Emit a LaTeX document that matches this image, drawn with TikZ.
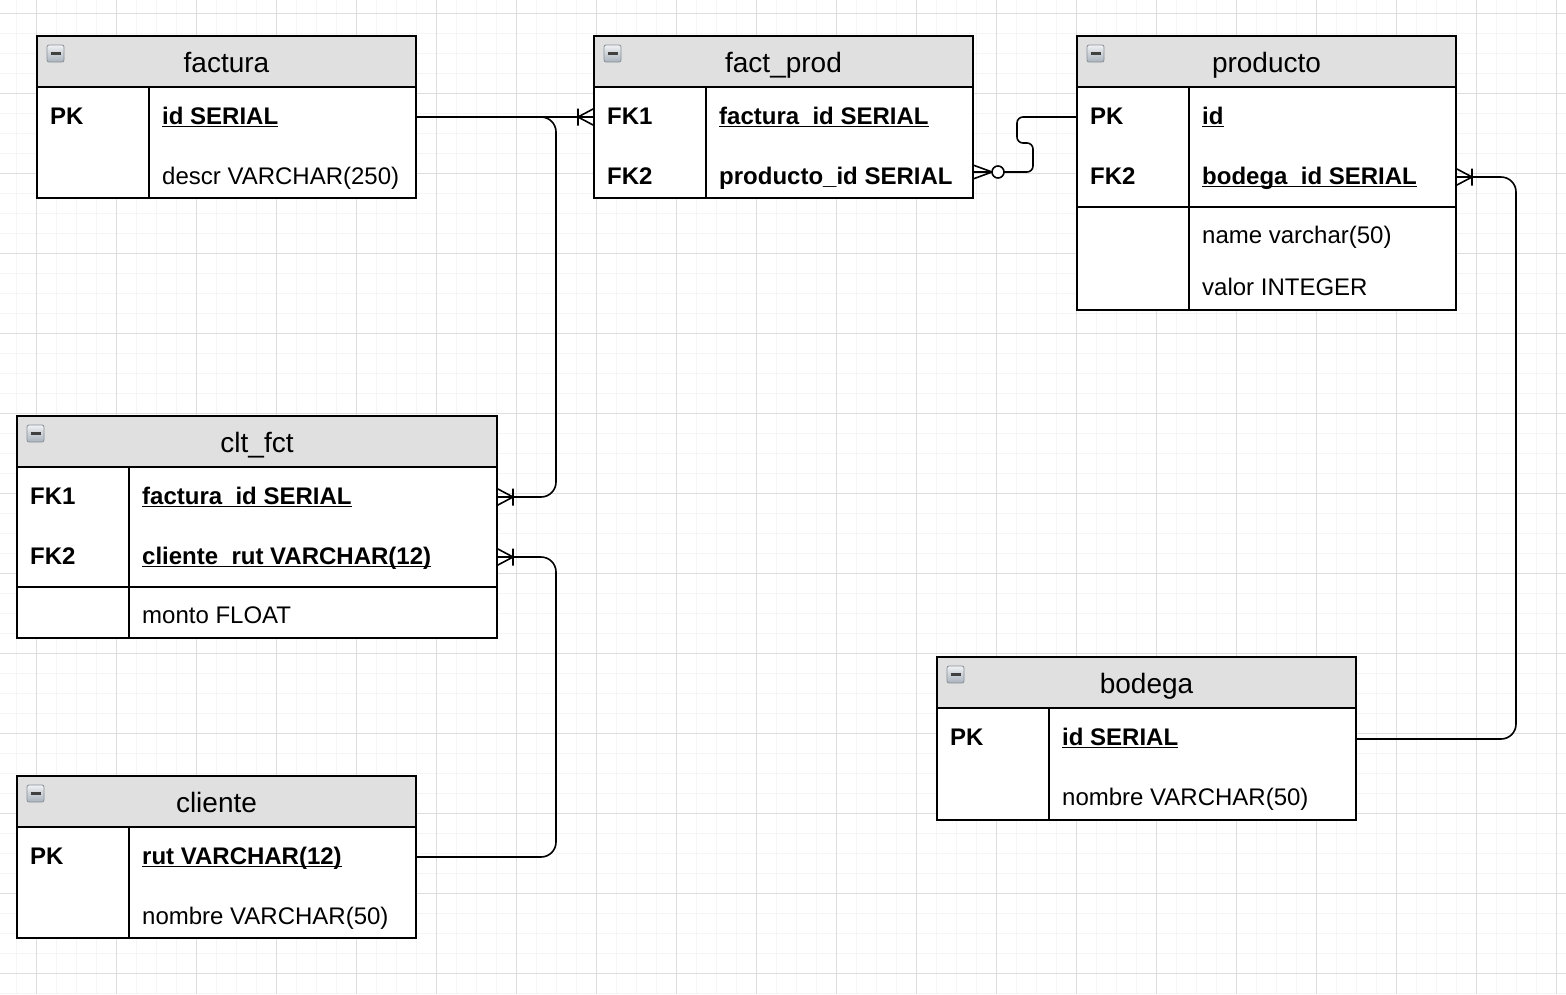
\documentclass[tikz,border=0pt]{standalone}
\usepackage{fontspec}
\setmainfont{Liberation Sans}
\definecolor{hdrgray}{HTML}{E0E0E0}
\definecolor{gridminor}{HTML}{F5F5F5}
\definecolor{gridmajor}{HTML}{DEDEDE}
\definecolor{icontop}{HTML}{F0F2F4}
\definecolor{iconbot}{HTML}{A9B2BC}
\definecolor{iconedge}{HTML}{8A9199}
\newcommand\ulin[1]{\draw[uline] ([yshift=-2.6pt]#1.base west) -- ([yshift=-2.6pt]#1.base east);}
\tikzset{
  tbl/.style={draw=black, line width=2pt, fill=white, inner sep=0pt, outer sep=0pt, anchor=north west},
  hdr/.style={draw=black, line width=2pt, fill=hdrgray, inner sep=0pt, outer sep=0pt, anchor=north west, minimum height=51pt},
  title/.style={inner sep=0pt, anchor=base, font=\fontsize{28}{32}\selectfont},
  keyt/.style={inner sep=0pt, anchor=base west, font=\fontsize{24}{28}\selectfont\bfseries},
  fld/.style={inner sep=0pt, anchor=base west, font=\fontsize{24}{28}\selectfont},
  fldb/.style={inner sep=0pt, anchor=base west, font=\fontsize{24}{28}\selectfont\bfseries},
  sep/.style={line width=2pt},
  uline/.style={line width=1.4pt},
  rel/.style={line width=1.6pt, rounded corners=15pt},
  icon/.style={minimum width=17pt, minimum height=17pt, inner sep=0pt, outer sep=0pt, rounded corners=2pt,
    draw=iconedge, line width=0.8pt, top color=icontop, bottom color=iconbot},
  minor/.style={gridminor, line width=1.5pt},
  major/.style={gridmajor, line width=1pt},
  onemany/.pic={\draw[line width=1.6pt] (0,-8.5) -- (16,0) -- (0,8.5) (16,-8.5) -- (16,8.5);},
  zeromany/.pic={\draw[line width=1.6pt] (0,-7) -- (19,0) -- (0,7); \draw[line width=1.6pt, fill=white] (25,0) circle (6pt);}
}
\begin{document}
\begin{tikzpicture}[x=1pt,y=-1pt]
\useasboundingbox (0,0) rectangle (1566,994);
\fill[white] (0,0) rectangle (1566,994);
% grid
\foreach \x in {16.5,36.5,...,1566} \draw[minor] (\x,0) -- (\x,994);
\foreach \y in {13.5,33.5,...,994} \draw[minor] (0,\y) -- (1566,\y);
\foreach \x in {36.5,116.5,...,1566} \draw[major] (\x,0) -- (\x,994);
\foreach \y in {13.5,93.5,...,994} \draw[major] (0,\y) -- (1566,\y);

% ---------- factura ----------
\node[tbl, minimum width=379pt, minimum height=162pt] (factura) at (37,36) {};
\node[hdr, minimum width=379pt] (factura-h) at (37,36) {};
\draw[sep] (149,87) -- (149,198);
\node[icon] (factura-i) at (55.5,53.5) {};
\node[title] (factura-t) at (226.5,72) {factura};
\node[keyt] (factura-k1) at (50,124) {PK};
\node[fldb] (factura-f1) at (162,124) {id SERIAL}; \ulin{factura-f1}
\node[fld] (factura-f2) at (162,184) {descr VARCHAR(250)};
\coordinate (factura-r1) at (416,117);

% ---------- fact_prod ----------
\node[tbl, minimum width=379pt, minimum height=162pt] (factprod) at (594,36) {};
\node[hdr, minimum width=379pt] (factprod-h) at (594,36) {};
\draw[sep] (706,87) -- (706,198);
\node[icon] (factprod-i) at (612.5,53.5) {};
\node[title] (factprod-t) at (783.5,72) {fact\_prod};
\node[keyt] (factprod-k1) at (607,124) {FK1};
\node[fldb] (factprod-f1) at (719,124) {factura\_id SERIAL}; \ulin{factprod-f1}
\node[keyt] (factprod-k2) at (607,184) {FK2};
\node[fldb] (factprod-f2) at (719,184) {producto\_id SERIAL};
\coordinate (factprod-r1) at (594,117);
\coordinate (factprod-r2) at (973,172);

% ---------- producto ----------
\node[tbl, minimum width=379pt, minimum height=274pt] (producto) at (1077,36) {};
\node[hdr, minimum width=379pt] (producto-h) at (1077,36) {};
\draw[sep] (1189,87) -- (1189,310);
\draw[sep] (1077,207) -- (1456,207);
\node[icon] (producto-i) at (1095.5,53.5) {};
\node[title] (producto-t) at (1266.5,72) {producto};
\node[keyt] (producto-k1) at (1090,124) {PK};
\node[fldb] (producto-f1) at (1202,124) {id}; \ulin{producto-f1}
\node[keyt] (producto-k2) at (1090,184) {FK2};
\node[fldb] (producto-f2) at (1202,184) {bodega\_id SERIAL}; \ulin{producto-f2}
\node[fld] (producto-f3) at (1202,243.5) {name varchar(50)};
\node[fld] (producto-f4) at (1202,295) {valor INTEGER};
\coordinate (producto-r1) at (1077,117);
\coordinate (producto-r2) at (1456,177);

% ---------- clt_fct ----------
\node[tbl, minimum width=480pt, minimum height=222pt] (cltfct) at (17,416) {};
\node[hdr, minimum width=480pt] (cltfct-h) at (17,416) {};
\draw[sep] (129,467) -- (129,638);
\draw[sep] (17,587) -- (497,587);
\node[icon] (cltfct-i) at (35.5,433.5) {};
\node[title] (cltfct-t) at (257,452) {clt\_fct};
\node[keyt] (cltfct-k1) at (30,504) {FK1};
\node[fldb] (cltfct-f1) at (142,504) {factura\_id SERIAL}; \ulin{cltfct-f1}
\node[keyt] (cltfct-k2) at (30,564) {FK2};
\node[fldb] (cltfct-f2) at (142,564) {cliente\_rut VARCHAR(12)}; \ulin{cltfct-f2}
\node[fld] (cltfct-f3) at (142,623) {monto FLOAT};
\coordinate (cltfct-r1) at (497,497);
\coordinate (cltfct-r2) at (497,557);

% ---------- cliente ----------
\node[tbl, minimum width=399pt, minimum height=162pt] (cliente) at (17,776) {};
\node[hdr, minimum width=399pt] (cliente-h) at (17,776) {};
\draw[sep] (129,827) -- (129,938);
\node[icon] (cliente-i) at (35.5,793.5) {};
\node[title] (cliente-t) at (216.5,812) {cliente};
\node[keyt] (cliente-k1) at (30,864) {PK};
\node[fldb] (cliente-f1) at (142,864) {rut VARCHAR(12)}; \ulin{cliente-f1}
\node[fld] (cliente-f2) at (142,924) {nombre VARCHAR(50)};
\coordinate (cliente-r1) at (416,857);

% ---------- bodega ----------
\node[tbl, minimum width=419pt, minimum height=163pt] (bodega) at (937,657) {};
\node[hdr, minimum width=419pt] (bodega-h) at (937,657) {};
\draw[sep] (1049,708) -- (1049,820);
\node[icon] (bodega-i) at (955.5,674.5) {};
\node[title] (bodega-t) at (1146.5,693) {bodega};
\node[keyt] (bodega-k1) at (950,745) {PK};
\node[fldb] (bodega-f1) at (1062,745) {id SERIAL}; \ulin{bodega-f1}
\node[fld] (bodega-f2) at (1062,805) {nombre VARCHAR(50)};
\coordinate (bodega-r1) at (1356,739);

% icon dashes
\foreach \n in {factura,factprod,producto,cltfct,cliente,bodega}
  \draw[line width=3pt, black!75] ([xshift=3.5pt]\n-i.west) -- ([xshift=-3.5pt]\n-i.east);

% ---------- relationships ----------
\draw[rel] (factura-r1) -- (factprod-r1);
\draw[rel] (factura-r1) -- ++(140,0) |- (cltfct-r1);
\draw[rel] (cliente-r1) -- ++(140,0) |- (cltfct-r2);
\draw[rel] (bodega-r1) -- ++(160,0) |- (producto-r2);
\draw[rel, rounded corners=6pt] (producto-r1) -- ++(-60,0) -- ++(0,26) -- ++(16,0) |- (factprod-r2);

\pic[xscale=-1] at (factprod-r1) {onemany};
\pic at (cltfct-r1) {onemany};
\pic at (cltfct-r2) {onemany};
\pic at (producto-r2) {onemany};
\pic at (factprod-r2) {zeromany};
\end{tikzpicture}
\end{document}
